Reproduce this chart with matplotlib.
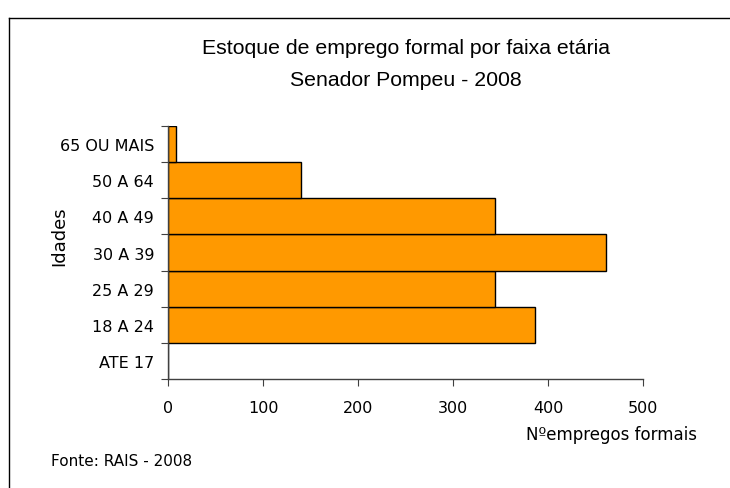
import matplotlib.pyplot as plt
from matplotlib.lines import Line2D

# dados
faixas = ['ATE 17', '18 A 24', '25 A 29', '30 A 39', '40 A 49', '50 A 64', '65 OU MAIS']
empregos = [0, 386, 344, 461, 344, 140, 8]
xticks = [0, 100, 200, 300, 400, 500]

plt.rcParams['font.family'] = ['DejaVu Sans']

fig = plt.figure(figsize=(7.3, 4.89), dpi=100)
ax = fig.add_axes([168 / 730, 1 - 380 / 489, 475 / 730, 253 / 489])

pos = list(range(len(faixas)))
ax.barh(pos, empregos, height=1.0, color='#FF9900', edgecolor='black', linewidth=1)

ax.set_xlim(0, 500)
ax.set_ylim(-0.5, len(faixas) - 0.5)

# ticks do eixo y nas fronteiras, rotulos no centro
ax.set_yticks([p - 0.5 for p in pos] + [len(faixas) - 0.5])
ax.set_yticklabels([])
ax.set_yticks(pos, minor=True)
ax.set_yticklabels(faixas, minor=True, fontsize=11.5)
ax.tick_params(axis='y', which='major', length=5, color='#404040')
ax.tick_params(axis='y', which='minor', length=0, pad=10)

ax.set_xticks(xticks)
ax.set_xticklabels([str(v) for v in xticks], fontsize=11.5)
ax.tick_params(axis='x', length=5, color='#404040', pad=10)

for s in ['top', 'right']:
    ax.spines[s].set_visible(False)
for s in ['left', 'bottom']:
    ax.spines[s].set_color('#404040')
    ax.spines[s].set_linewidth(1)

fig.text(406 / 730, 1 - 49 / 489, 'Estoque de emprego formal por faixa etária',
         ha='center', va='center', fontsize=15.3, family='Liberation Sans')
fig.text(406 / 730, 1 - 80 / 489, 'Senador Pompeu - 2008',
         ha='center', va='center', fontsize=15.3, family='Liberation Sans')
fig.text(697 / 730, 1 - 435 / 489, 'Nºempregos formais', ha='right', va='center', fontsize=12)
fig.text(59 / 730, 1 - 236 / 489, 'Idades', rotation=90, ha='center', va='center', fontsize=13)
fig.text(51 / 730, 1 - 462 / 489, 'Fonte: RAIS - 2008', ha='left', va='center', fontsize=11)

# moldura (so topo e lado esquerdo aparecem)
topo = 1 - 18.5 / 489
esq = 8.5 / 730
fig.add_artist(Line2D([esq, 1.0], [topo, topo], transform=fig.transFigure, color='black', linewidth=1))
fig.add_artist(Line2D([esq, esq], [0.0, topo], transform=fig.transFigure, color='black', linewidth=1))

fig.savefig('out.png', dpi=100)
